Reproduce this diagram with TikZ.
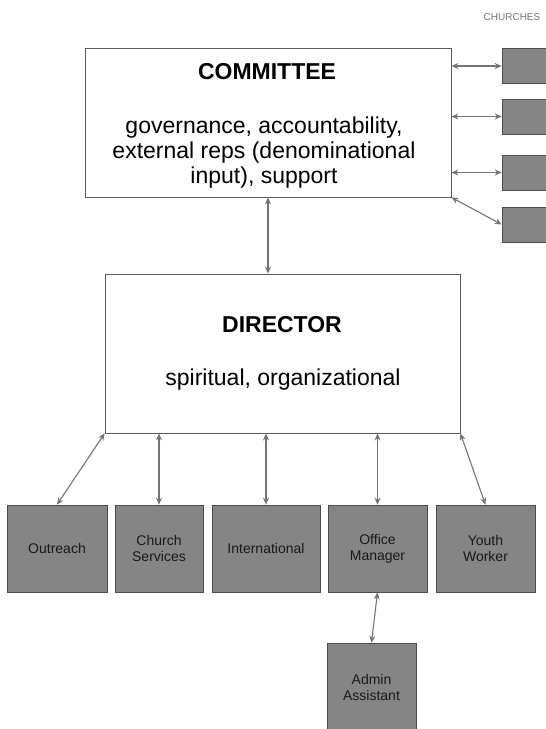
\documentclass[tikz,border=0pt]{standalone}
\usepackage{fontspec}
\setmainfont{Liberation Sans}
\usetikzlibrary{arrows.meta}

\begin{document}
\begin{tikzpicture}[x=1pt,y=1pt]
                \tikzstyle{every node}+=[inner sep=0pt]
                \tikzstyle{mainbox}=[draw=black!65, line width=0.8pt, fill=white, rectangle]
                \tikzstyle{unitbox}=[draw=black!70, line width=0.6pt, fill=black!48, rectangle, minimum height=87pt, align=center, text=black!90, font=\fontsize{14}{16}\selectfont]
                \tikzstyle{churchbox}=[draw=black!70, line width=0.6pt, fill=black!48, rectangle, minimum width=60pt, minimum height=35pt]
                \tikzstyle{title}=[font=\bfseries\fontsize{23}{25}\selectfont]
                \tikzstyle{body}=[font=\fontsize{23}{25}\selectfont, align=center]
                \tikzstyle{link}=[draw=black!55, line width=1.1pt, {Stealth[length=7pt,width=6pt]}-{Stealth[length=7pt,width=6pt]}]
                \useasboundingbox (0,0) rectangle (546,-729);
                \clip (0,0) rectangle (546,-729);
                % top boxes
                \node [mainbox, minimum width=366pt, minimum height=149pt] (committee) at (268,-122.5) {};
                \node [title] (comtitle) at (267,-72) {COMMITTEE};
                \node [body] (comtext) at (264,-153) {governance, accountability,\\external reps (denominational\\input), support};
                \node [mainbox, minimum width=355pt, minimum height=159pt] (director) at (282.5,-353.5) {};
                \node [title] (dirtitle) at (282,-325) {DIRECTOR};
                \node [body] (dirtext) at (283,-380) {spiritual, organizational};
                % churches
                \node [font=\fontsize{10}{10}\selectfont, text=black!55] (churches) at (512,-17) {CHURCHES};
                \node [churchbox] (c1) at (532,-66) {};
                \node [churchbox] (c2) at (532,-116.5) {};
                \node [churchbox] (c3) at (532,-172.5) {};
                \node [churchbox] (c4) at (532,-224.5) {};
                % staff
                \node [unitbox, minimum width=100pt] (outreach) at (57,-548.5) {Outreach};
                \node [unitbox, minimum width=88pt] (services) at (159,-548.5) {Church\\Services};
                \node [unitbox, minimum width=108pt] (intl) at (266,-548.5) {International};
                \node [unitbox, minimum width=99pt] (office) at (377.5,-548.5) {Office\\Manager};
                \node [unitbox, minimum width=99pt] (youth) at (485.5,-548.5) {Youth\\Worker};
                \node [unitbox, minimum width=89pt, minimum height=89pt] (admin) at (371.5,-687.5) {Admin\\Assistant};
                % links
                \draw [link] (committee.east |- c1.west) -- (c1.west);
                \draw [link] (committee.east |- c2.west) -- (c2.west);
                \draw [link] (committee.east |- c3.west) -- (c3.west);
                \draw [link] (committee.south east) -- (c4.west);
                \draw [link] (committee.south) -- (committee.south |- director.north);
                \draw [link] (director.south west) -- (outreach.north);
                \draw [link] (director.south -| services.north) -- (services.north);
                \draw [link] (director.south -| intl.north) -- (intl.north);
                \draw [link] (director.south -| office.north) -- (office.north);
                \draw [link] (director.south east) -- (youth.north);
                \draw [link] (office.south) -- (admin.north);
              \end{tikzpicture}
\end{document}
